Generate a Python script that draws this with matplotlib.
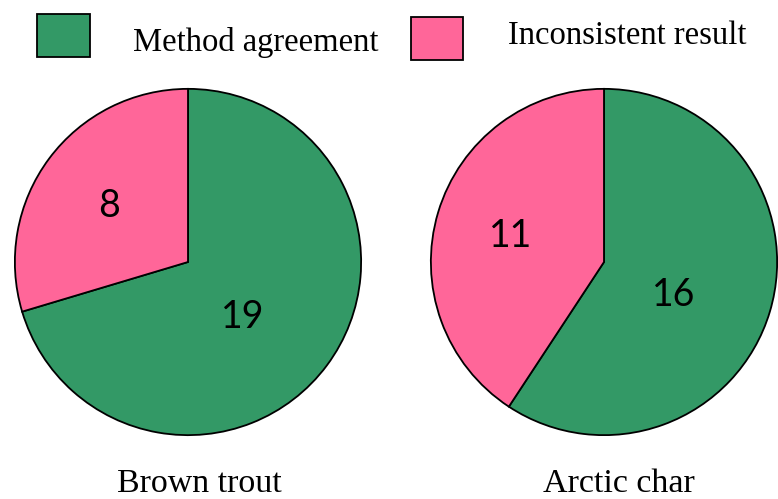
import numpy as np
import matplotlib
matplotlib.use("Agg")
import matplotlib.pyplot as plt
from matplotlib.patches import Rectangle

species = ["Brown trout", "Arctic char"]
agreement = [19, 16]
inconsistent = [8, 11]
legend_labels = ["Method agreement", "Inconsistent result"]

green = "#339966"
pink = "#FF6699"

W, H = 778, 499
fig = plt.figure(figsize=(W / 100, H / 100), dpi=100)

def px_axes(cx, cy, r):
    # axes box in pixel coords (top-left origin) -> figure fraction
    return [(cx - r) / W, (H - cy - r) / H, 2 * r / W, 2 * r / H]

centers = [(188, 262), (604, 262)]
title_pos = [(199, 484), (619, 484)]
r = 174

for i, name in enumerate(species):
    ax = fig.add_axes(px_axes(centers[i][0], centers[i][1], r))
    vals = [agreement[i], inconsistent[i]]
    wedges, _ = ax.pie(vals, colors=[green, pink], startangle=90, counterclock=False,
                       radius=1, wedgeprops=dict(edgecolor="black", linewidth=1.3))
    for w, v, d, off in zip(wedges, vals, [0.44, 0.565], [-7, 0]):
        mid = np.deg2rad((w.theta1 + w.theta2) / 2 + off)
        ax.annotate(str(v), (d * np.cos(mid), d * np.sin(mid)), xytext=(0, -13),
                    textcoords="offset pixels", ha="center", va="baseline",
                    fontsize=27, family="Lato", color="black")
    ax.set_xlim(-1.005, 1.005)
    ax.set_ylim(-1.005, 1.005)
    ax.set_aspect("equal")
    ax.axis("off")
    fig.text(title_pos[i][0] / W, 1 - title_pos[i][1] / H, name, ha="center", va="center",
             fontsize=24.5, family="Liberation Serif")

# legend boxes at top
boxes = [(37, 14, 53, 43), (411, 17, 52, 43)]
text_pos = [(133, 43), (508, 36)]
for (bx, by, bw, bh), col, lab, (tx, ty) in zip(boxes, [green, pink], legend_labels, text_pos):
    fig.patches.append(Rectangle((bx / W, 1 - (by + bh) / H), bw / W, bh / H,
                                 transform=fig.transFigure, facecolor=col,
                                 edgecolor="black", linewidth=1.3))
    fig.text(tx / W, 1 - ty / H, lab, ha="left", va="center", fontsize=23.5,
             family="Liberation Serif")

fig.savefig("out.png", dpi=100)
